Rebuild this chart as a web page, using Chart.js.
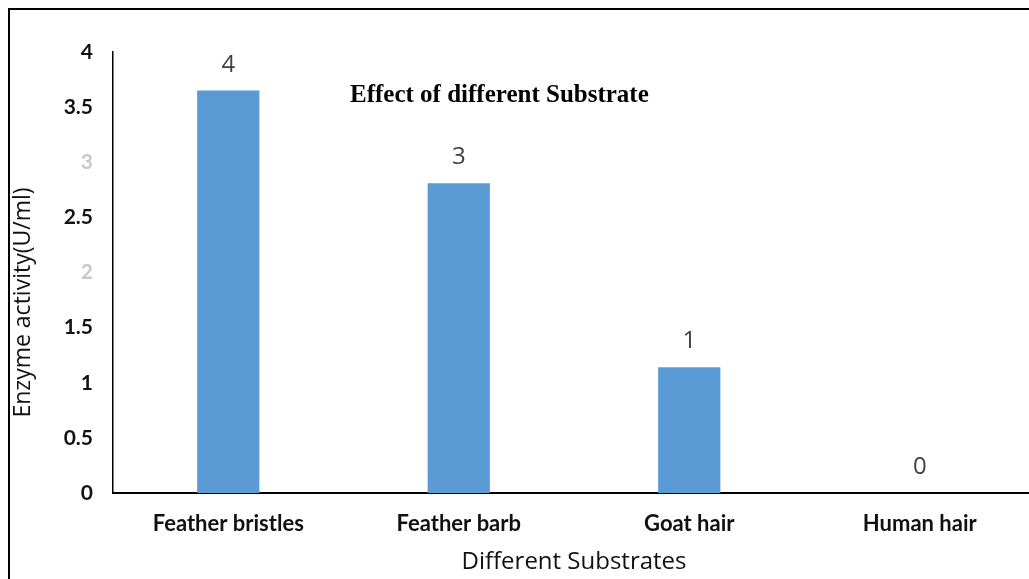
<!DOCTYPE html>
<html>
<head>
<meta charset="utf-8">
<script src="https://cdn.jsdelivr.net/npm/chart.js@4.4.0/dist/chart.umd.min.js"></script>
<style>
  html, body { margin: 0; padding: 0; background: #fff; overflow: hidden; width: 1029px; height: 579px; }
  #frame { position: absolute; left: 8px; top: 8px; width: 1200px; height: 800px; border: 2px solid #000; box-sizing: border-box; }
  #wrap { position: absolute; left: 0; top: 0; width: 1045px; height: 579px; }
</style>
</head>
<body>
<div id="frame"></div>
<div id="wrap"><canvas id="c" width="1045" height="579"></canvas></div>
<script>
const categories = ["Feather bristles", "Feather barb", "Goat hair", "Human hair"];
const activity = [3.65, 2.81, 1.14, 0];
const valueLabels = ["4", "3", "1", "0"];
const yTicks = [0, 0.5, 1, 1.5, 2, 2.5, 3, 3.5, 4];
const fadedTicks = [2, 3];
const chartTitle = "Effect of different Substrate";
const yTitle = "Enzyme activity(U/ml)";
const xTitle = "Different Substrates";

const overlay = {
  id: 'overlay',
  afterDatasetsDraw(chart) {
    const ctx = chart.ctx;
    const meta = chart.getDatasetMeta(0);
    const a = chart.chartArea;
    ctx.save();
    ctx.fillStyle = '#404040';
    ctx.font = '24px "Open Sans"';
    ctx.textAlign = 'center';
    ctx.textBaseline = 'alphabetic';
    meta.data.forEach((bar, i) => {
      ctx.fillText(valueLabels[i], bar.x, bar.y - 19);
    });
    ctx.fillStyle = '#000';
    ctx.font = 'bold 25px "Liberation Serif"';
    ctx.textAlign = 'left';
    ctx.textBaseline = 'middle';
    ctx.fillText(chartTitle, a.left + 237, a.top + 44);
    // y axis title
    ctx.fillStyle = '#111';
    ctx.font = '23px "Open Sans"';
    ctx.textAlign = 'center';
    ctx.textBaseline = 'middle';
    ctx.translate(23, (a.top + a.bottom) / 2 + 30);
    ctx.rotate(-Math.PI / 2);
    ctx.fillText(yTitle, 0, 0);
    ctx.restore();
  }
};

new Chart(document.getElementById('c'), {
  type: 'bar',
  data: {
    labels: categories,
    datasets: [{
      data: activity,
      backgroundColor: '#5b9bd5',
      borderWidth: 0,
      barPercentage: 1,
      categoryPercentage: 0.27
    }]
  },
  options: {
    responsive: false,
    animation: false,
    layout: { padding: { top: 52, right: 10, left: 0, bottom: 0 } },
    plugins: { legend: { display: false }, tooltip: { enabled: false }, title: { display: false } },
    scales: {
      x: {
        grid: { display: false, drawTicks: false },
        border: { display: true, color: '#000', width: 2 },
        ticks: { color: '#111', font: { family: 'Lato', weight: 'bold', size: 22 }, padding: 18, maxRotation: 0 },
        title: { display: true, text: xTitle, color: '#111', font: { family: 'Open Sans', size: 24 }, padding: { top: 2, bottom: 2 } },
        afterFit(s) { s.height = 86; }
      },
      y: {
        min: 0, max: 4,
        afterBuildTicks(s) { s.ticks = yTicks.map(v => ({ value: v })); },
        grid: { display: false, drawTicks: false },
        border: { display: true, color: '#000', width: 1.5 },
        ticks: {
          padding: 20,
          font: { family: 'Lato', weight: 'bold', size: 21 },
          color: (c) => fadedTicks.includes(c.tick.value) ? '#c8c8c8' : '#111',
          callback: (v) => String(v)
        },
        afterFit(s) { s.width = 113; }
      }
    }
  },
  plugins: [overlay]
});
</script>
</body>
</html>
